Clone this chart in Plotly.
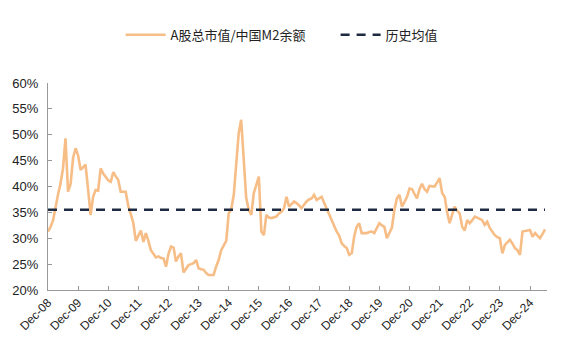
import plotly.graph_objects as go
import pandas as pd

# Monthly ratio: A-share total market cap / China M2 (%), Dec-2008 .. Jun-2025
ratio = [
    31.3, 32.2, 33.5, 36.0, 38.4, 40.5, 43.5, 49.3, 39.0, 40.5, 45.5, 47.4,
    46.0, 43.2, 43.8, 44.2, 39.5, 34.5, 38.0, 39.3, 39.2, 43.5, 42.5, 41.9,
    41.2, 40.9, 42.8, 42.0, 41.3, 39.0, 39.0, 39.0, 36.3, 34.8, 33.0, 29.5,
    30.5, 31.5, 29.3, 31.0, 29.5, 27.7, 27.0, 26.3, 26.5, 26.2, 26.1, 24.5,
    27.0, 28.4, 28.2, 25.5, 26.5, 27.1, 23.4, 24.2, 24.8, 25.0, 25.2, 25.8,
    24.2, 24.0, 23.9, 23.3, 22.9, 22.9, 22.9, 24.5, 25.8, 27.7, 28.5, 29.5,
    34.8, 35.6, 38.5, 44.0, 50.3, 52.9, 45.0, 37.8, 35.5, 34.5, 38.7, 40.3,
    41.9, 31.3, 30.6, 34.5, 34.0, 33.9, 34.0, 34.2, 34.8, 35.1, 35.8, 38.0,
    36.1, 36.6, 37.1, 36.8, 36.4, 35.8, 36.5, 37.1, 37.5, 37.7, 38.4, 37.4,
    37.7, 38.0, 36.8, 35.8, 34.5, 33.5, 32.2, 31.3, 30.5, 29.0, 28.5, 28.1,
    26.8, 27.1, 30.5, 32.2, 32.9, 31.0, 31.0, 31.0, 31.2, 31.3, 31.0, 32.0,
    32.9, 32.5, 32.2, 30.0, 31.0, 32.0, 35.5, 37.7, 38.4, 36.1, 37.0, 38.0,
    39.6, 39.5, 38.5, 37.7, 39.5, 40.5, 39.5, 39.0, 40.1, 40.0, 40.0, 40.8,
    41.6, 38.7, 38.0, 35.1, 32.9, 34.5, 36.1, 35.3, 34.8, 32.2, 31.5, 33.5,
    32.9, 33.5, 34.2, 34.0, 33.8, 33.5, 32.6, 33.2, 32.0, 31.3, 30.6, 30.2,
    30.0, 27.1, 28.7, 29.2, 29.7, 29.0, 28.1, 27.7, 26.8, 31.3, 31.4, 31.6,
    31.6, 30.3, 31.0, 30.5, 30.0, 30.8, 31.7,
]
hist_mean = 35.5
start_month = "2008-12-01"
tick_years = list(range(2008, 2025))
tick_labels = [f"Dec-{y % 100:02d}" for y in tick_years]
y_ticks = [20, 25, 30, 35, 40, 45, 50, 55, 60]

dates = pd.date_range(start_month, periods=len(ratio), freq="MS")
tick_vals = [pd.Timestamp(f"{y}-12-01") for y in tick_years]

fig = go.Figure()
fig.add_trace(go.Scatter(
    x=dates, y=ratio, mode="lines", name="A股总市值/中国M2余额",
    line=dict(color="#F7BD86", width=2.6),
))
fig.add_trace(go.Scatter(
    x=dates, y=[hist_mean] * len(dates), mode="lines", name="历史均值",
    line=dict(color="#1E2A40", width=2.6, dash="9px,7px"),
))

fig.update_layout(
    width=561, height=348,
    margin=dict(l=48, r=14, t=83, b=58),
    paper_bgcolor="white", plot_bgcolor="white",
    font=dict(family="Liberation Sans, Arial, Noto Sans CJK SC", size=12, color="#222222"),
    showlegend=True,
    legend=dict(
        orientation="h", xref="container", x=0.215, xanchor="left",
        y=0.9, yanchor="middle", yref="container",
        font=dict(family="Noto Sans CJK SC, Liberation Sans", size=13, color="#222222"),
        itemwidth=40, tracegroupgap=0, entrywidth=160, entrywidthmode="pixels",
    ),
    xaxis=dict(
        range=[pd.Timestamp("2008-12-01"), pd.Timestamp("2025-06-25")],
        tickmode="array", tickvals=tick_vals, ticktext=tick_labels,
        tickangle=-45, ticks="inside", ticklen=4, tickcolor="#999999",
        showline=True, linecolor="#999999", linewidth=1,
        showgrid=False, zeroline=False,
        tickfont=dict(size=12, color="#222222"),
    ),
    yaxis=dict(
        range=[20, 60], tickmode="array", tickvals=y_ticks,
        ticktext=[f"{v}%" for v in y_ticks],
        ticks="inside", ticklen=4, tickcolor="#999999",
        showline=True, linecolor="#999999", linewidth=1,
        showgrid=False, zeroline=False, ticklabelstandoff=6,
        tickfont=dict(size=13, color="#222222"),
    ),
)

fig.write_html("out.html")
